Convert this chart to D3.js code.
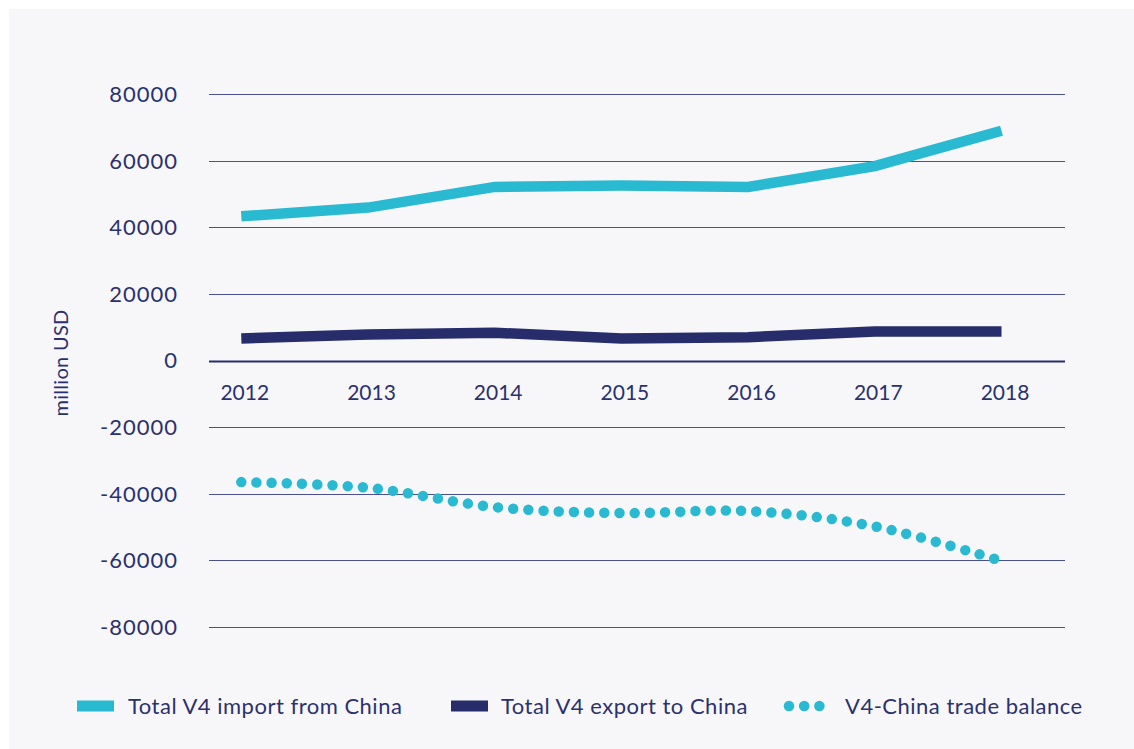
<!DOCTYPE html>
<html>
<head>
<meta charset="utf-8">
<script src="https://cdn.jsdelivr.net/npm/d3@7"></script>
<style>
  html, body { margin: 0; padding: 0; background: #ffffff; }
  svg { display: block; }
  text { font-family: Lato, "Open Sans", sans-serif; fill: #2b316e; }
</style>
</head>
<body>
<svg id="chart" width="1134" height="749"></svg>
<script>
const years = ["2012", "2013", "2014", "2015", "2016", "2017", "2018"];
const importValues = [43300, 45900, 52100, 52500, 52100, 58350, 68960];
const exportValues = [6600, 7800, 8330, 6600, 7000, 8720, 8720];
const balanceValues = [-36500, -38200, -44000, -45800, -45200, -49800, -60200];
const yTicks = [80000, 60000, 40000, 20000, 0, -20000, -40000, -60000, -80000];
const seriesNames = ["Total V4 import from China", "Total V4 export to China", "V4-China trade balance"];
const yAxisTitle = "million USD";

const cyan = "#29b9d1";
const navy = "#272d6a";
const gridColor = "#4a508c";

const svg = d3.select("#chart");

svg.append("rect").attr("x", 9).attr("y", 9).attr("width", 1125).attr("height", 740).attr("fill", "#f7f7fa");

const x = d3.scalePoint().domain(years).range([241.3, 1001.5]);
const y = d3.scaleLinear().domain([-80000, 80000]).range([627, 94]);

const gridLeft = 209, gridRight = 1065;

// gridlines
svg.append("g").selectAll("line").data(yTicks).join("line")
  .attr("x1", gridLeft).attr("x2", gridRight)
  .attr("y1", d => Math.round(y(d)) + 0.5).attr("y2", d => Math.round(y(d)) + 0.5)
  .attr("stroke", d => d === 0 ? navy : gridColor)
  .attr("stroke-width", d => d === 0 ? 2.2 : 1);

// y tick labels
svg.append("g").selectAll("text").data(yTicks).join("text")
  .attr("x", 178).attr("y", d => y(d))
  .attr("dy", "0.36em")
  .attr("text-anchor", "end")
  .style("font-size", "22px")
  .style("letter-spacing", "1px")
  .text(d => d);

// x labels
svg.append("g").selectAll("text").data(years).join("text")
  .attr("x", d => x(d) + 3.5).attr("y", 392)
  .attr("dy", "0.36em")
  .attr("text-anchor", "middle")
  .style("font-size", "21px")
  .text(d => d);

// y axis title
svg.append("text")
  .attr("transform", "translate(61,363) rotate(-90)")
  .attr("text-anchor", "middle")
  .attr("dy", "0.36em")
  .style("font-size", "20px")
  .style("letter-spacing", "0.3px")
  .text(yAxisTitle);

const line = d3.line().x((d, i) => x(years[i])).y(d => y(d));
const smooth = d3.line().x((d, i) => x(years[i])).y(d => y(d)).curve(d3.curveCatmullRom.alpha(0));

svg.append("path").datum(importValues).attr("d", line)
  .attr("fill", "none").attr("stroke", cyan).attr("stroke-width", 10.5).attr("stroke-linejoin", "miter");
svg.append("path").datum(exportValues).attr("d", line)
  .attr("fill", "none").attr("stroke", navy).attr("stroke-width", 10.5).attr("stroke-linejoin", "miter");
svg.append("path").datum(balanceValues).attr("d", smooth)
  .attr("fill", "none").attr("stroke", cyan).attr("stroke-width", 10.5)
  .attr("stroke-linecap", "round").attr("stroke-dasharray", "0 15.2");

// legend
const lg = svg.append("g");
const legY = 706;
const legFont = "22px", legSpacing = "0.5px";
lg.append("rect").attr("x", 77).attr("y", legY - 5.5).attr("width", 37).attr("height", 11).attr("fill", cyan);
lg.append("text").attr("x", 128).attr("y", legY).attr("dy", "0.36em").style("font-size", legFont).style("letter-spacing", legSpacing).text(seriesNames[0]);
lg.append("rect").attr("x", 451).attr("y", legY - 5.5).attr("width", 37).attr("height", 11).attr("fill", navy);
lg.append("text").attr("x", 501).attr("y", legY).attr("dy", "0.36em").style("font-size", legFont).style("letter-spacing", legSpacing).text(seriesNames[1]);
lg.selectAll("circle.ld").data([0, 1, 2]).join("circle")
  .attr("cx", d => 789 + d * 15.2).attr("cy", legY).attr("r", 5.3).attr("fill", cyan);
lg.append("text").attr("x", 845).attr("y", legY).attr("dy", "0.36em").style("font-size", legFont).style("letter-spacing", legSpacing).text(seriesNames[2]);
</script>
</body>
</html>
